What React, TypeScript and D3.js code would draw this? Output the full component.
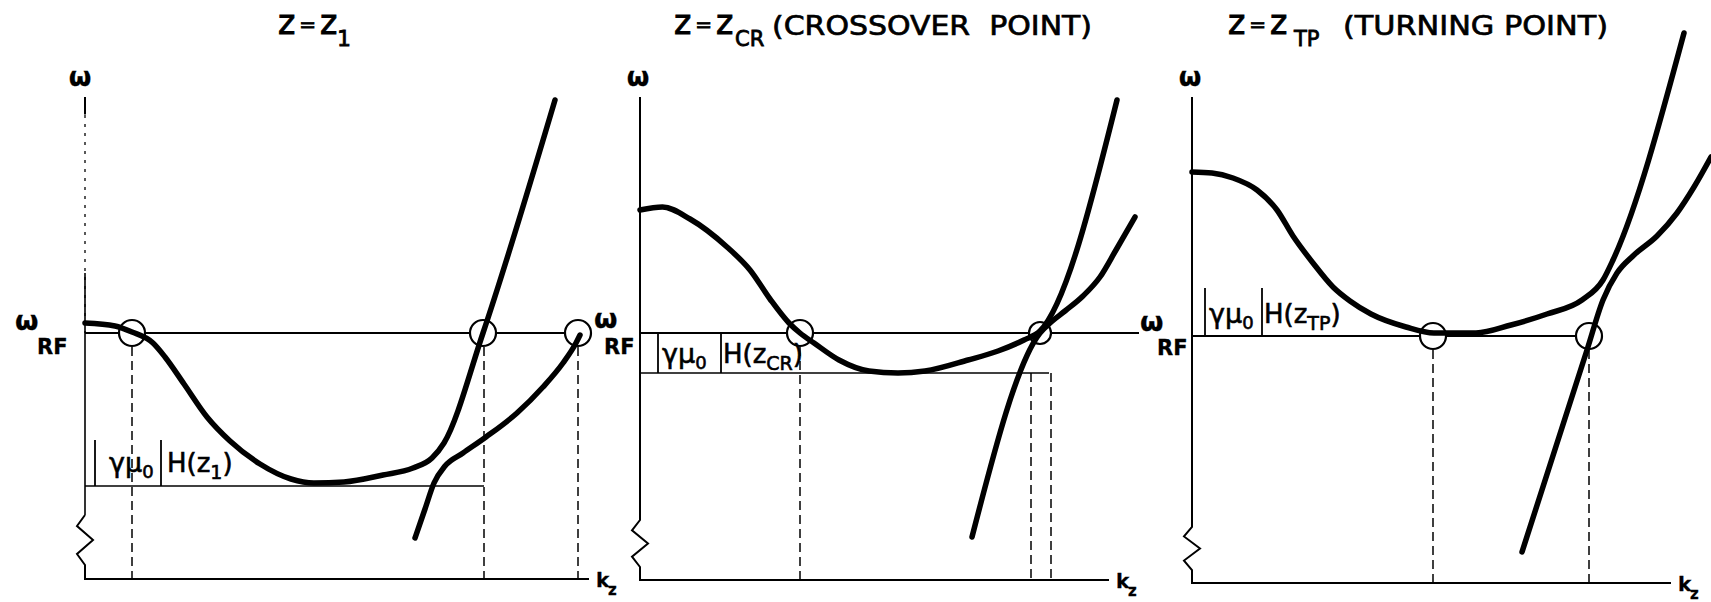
import React from 'react';
import * as d3 from 'd3';

type Pt = [number, number];

// ---- values (k_z and omega in arbitrary units) ----
const titleSubs = ['1', 'CR', 'TP'];
const titleTails = ['', '(CROSSOVER  POINT)', '(TURNING POINT)'];

const omegaRF = [4.92, 4.94, 4.94];
const fieldBars: Pt[] = [[1.86, 2.78], [4.14, 4.94], [4.94, 5.9]];
const fieldLevel = [1.86, 4.14, null];
const fieldLineEnd = [7.98, 8.18, 0];
const rfLineEnd = [9.86, 9.98, 7.94];
const axisKMax = [10.08, 9.38, 9.58];
const axisOmegaMax = [9.64, 9.66, 9.72];
const zigzag: Pt[] = [[1.28, 0.28], [1.2, 0.26], [1.12, 0.26]];

// upper and lower dispersion branches, per panel
const upper1: Pt[] = [[0, 5.12], [0.6, 5.06], [0.94, 4.94], [1.36, 4.72], [1.6, 4.44], [1.98, 3.9], [2.44, 3.24], [2.9, 2.76], [3.5, 2.3], [4.12, 2.0], [4.58, 1.92], [5.18, 1.94], [5.96, 2.08], [6.56, 2.22], [6.94, 2.42], [7.18, 2.72], [7.96, 4.92], [9.4, 9.58]];
const lower1: Pt[] = [[6.6, 0.82], [6.8, 1.4], [6.98, 1.92], [7.2, 2.26], [7.56, 2.52], [8.02, 2.84], [8.64, 3.32], [9.16, 3.84], [9.56, 4.32], [9.82, 4.72], [9.9, 4.88]];
const upper2: Pt[] = [[0, 7.4], [0.45, 7.46], [1.0, 7.22], [1.74, 6.66], [2.2, 6.2], [2.6, 5.62], [2.98, 5.14], [3.2, 4.94], [3.48, 4.74], [3.98, 4.4], [4.58, 4.18], [5.16, 4.14], [5.7, 4.18], [6.56, 4.4], [7.16, 4.58], [7.68, 4.8], [8.0, 4.98], [9.54, 9.6]];
const lower2: Pt[] = [[6.64, 0.86], [8.0, 4.94], [8.2, 5.14], [8.5, 5.38], [8.86, 5.68], [9.2, 6.06], [9.52, 6.6], [9.9, 7.26]];
const upper3: Pt[] = [[0, 8.22], [0.4, 8.2], [0.82, 8.1], [1.3, 7.86], [1.7, 7.46], [2.02, 6.94], [2.42, 6.4], [2.82, 5.92], [3.16, 5.64], [3.58, 5.38], [4.28, 5.12], [4.84, 5.0], [5.68, 5.0], [6.38, 5.16], [7.1, 5.38], [7.8, 5.66], [8.22, 6.06], [8.42, 6.46], [9.84, 11.0]];
const lower3: Pt[] = [[6.6, 0.62], [7.9, 4.66], [8.22, 5.66], [8.5, 6.2], [8.84, 6.56], [9.3, 6.94], [9.7, 7.4], [10.04, 7.92], [10.38, 8.52]];

const circles1 = [0.94, 7.96, 9.86];
const circles2 = [3.2, 8.0];
const circles3 = [4.82, 7.94];

// dashed projections: [k, omega where the drop starts]
const drops1: Pt[] = [[0.94, 4.92], [7.98, 4.92], [9.86, 4.92]];
const drops2: Pt[] = [[3.2, 4.94], [7.82, 4.14], [8.22, 4.14]];
const drops3: Pt[] = [[4.82, 4.94], [7.94, 4.94]];

const uppers = [upper1, upper2, upper3];
const lowers = [lower1, lower2, lower3];
const circles = [circles1, circles2, circles3];
const drops = [drops1, drops2, drops3];

// ---- layout (pixels) ----
const W = 1711;
const H = 602;
const PX = 50; // pixels per unit
const origins = [{ x: 85, y: 579 }, { x: 640, y: 580 }, { x: 1192, y: 583 }];
const titleLayout = [
  { zx: 278, sx: 337, tx: 0, tw: 0 },
  { zx: 674, sx: 735, tx: 772, tw: 320 },
  { zx: 1228, sx: 1294, tx: 1343, tw: 265 },
];
// "|γμ0|H(z..)" positions in data units: bar1, γμ, bar2, H, baseline
const labelLayout = [
  { b1: 0.2, g: 0.48, b2: 1.52, h: 1.64, base: 2.14 },
  { b1: 0.36, g: 0.44, b2: 1.62, h: 1.66, base: 4.34 },
  { b1: 0.26, g: 0.34, b2: 1.4, h: 1.44, base: 5.2 },
];
const rfLabels = [
  { wx: 15, wy: 330, rx: 37, ry: 354 },
  { wx: 594, wy: 328, rx: 604, ry: 354 },
  { wx: 1140, wy: 331, rx: 1157, ry: 355 },
];

const FONT = "'DejaVu Sans', sans-serif";
const THICK = 5.5;

function Panel({ i }: { i: number }) {
  const o = origins[i];
  const x = d3.scaleLinear().domain([0, 1]).range([o.x, o.x + PX]);
  const y = d3.scaleLinear().domain([0, 1]).range([o.y, o.y - PX]);
  const curve = d3.line<Pt>().x(d => x(d[0])).y(d => y(d[1])).curve(d3.curveMonotoneX);
  const straight = d3.line<Pt>().x(d => d[0]).y(d => d[1]);

  const rf = omegaRF[i];
  const [zTop, zBot] = zigzag[i];
  const ax = x(0);
  const zt = y(zTop);
  const zb = y(zBot);
  const zzPts: Pt[] = [
    [ax, y(axisOmegaMax[i])],
    [ax, zt],
    [ax - 8, zt + (zb - zt) * 0.22],
    [ax + 8, zt + (zb - zt) * 0.5],
    [ax - 8, zt + (zb - zt) * 0.78],
    [ax, zb],
    [ax, y(0)],
    [x(axisKMax[i]), y(0)],
  ];

  const tl = titleLayout[i];
  const lb = labelLayout[i];
  const rl = rfLabels[i];
  const [barLo, barHi] = fieldBars[i];
  const fl = fieldLevel[i];

  return (
    <g>
      {/* axes with break mark */}
      {i === 0 ? (
        <g>
          <path d={straight(zzPts.slice(1)) || ''} fill="none" stroke="#000" strokeWidth={2} />
          <line x1={ax} x2={ax} y1={y(axisOmegaMax[i])} y2={y(rf)} stroke="#000" strokeWidth={1.3} strokeDasharray="3 6" />
          <line x1={ax} x2={ax} y1={y(axisOmegaMax[i])} y2={y(axisOmegaMax[i] - 0.35)} stroke="#000" strokeWidth={2} />
          <line x1={ax} x2={ax} y1={y(rf + 1.2)} y2={zt} stroke="#000" strokeWidth={1.6} />
        </g>
      ) : (
        <path d={straight(zzPts) || ''} fill="none" stroke="#000" strokeWidth={2} />
      )}

      {/* omega_RF level */}
      <line x1={ax} x2={x(rfLineEnd[i])} y1={y(rf)} y2={y(rf)} stroke="#000" strokeWidth={2} />
      {/* |γμ0|H(z) level */}
      {fl !== null && (
        <line x1={ax} x2={x(fieldLineEnd[i])} y1={y(fl)} y2={y(fl)} stroke="#000" strokeWidth={1.6} />
      )}

      {/* dashed drops to the k_z axis */}
      {drops[i].map((d, j) => (
        <line key={j} x1={x(d[0])} x2={x(d[0])} y1={y(d[1])} y2={y(0)} stroke="#000" strokeWidth={1.5} strokeDasharray="9 5" />
      ))}

      {/* bars of the |γμ0|H label */}
      {[lb.b1, lb.b2].map((b, j) => (
        <line key={j} x1={x(b)} x2={x(b)} y1={y(barLo)} y2={y(barHi)} stroke="#000" strokeWidth={1.8} />
      ))}

      {/* crossing circles */}
      {circles[i].map((c, j) => (
        <circle key={j} cx={x(c)} cy={y(rf)} r={i === 1 && j === 1 ? 11 : 13} fill="#fff" stroke="#000" strokeWidth={2.2} />
      ))}

      {/* dispersion branches */}
      <path d={curve(uppers[i]) || ''} fill="none" stroke="#000" strokeWidth={THICK} strokeLinecap="round" strokeLinejoin="round" />
      <path d={curve(lowers[i]) || ''} fill="none" stroke="#000" strokeWidth={THICK} strokeLinecap="round" strokeLinejoin="round" />

      {/* texts */}
      <g fontFamily={FONT} fill="#000" stroke="#000">
        <text x={tl.zx} y={34} fontSize={33} strokeWidth={0.9}>
          z<tspan fontSize={20} dx={4} dy={-3}>=</tspan><tspan fontSize={33} dx={4} dy={3}>z</tspan>
        </text>
        <text x={tl.sx} y={46} fontSize={i === 0 ? 22 : 21} strokeWidth={0.8}>{titleSubs[i]}</text>
        {titleTails[i] && (
          <text x={tl.tx} y={35} fontSize={27} textLength={tl.tw} lengthAdjust="spacingAndGlyphs" strokeWidth={0.7} xmlSpace="preserve">{titleTails[i]}</text>
        )}
        <text x={ax - (i === 0 ? 5 : 2)} y={86} fontSize={26} fontWeight="bold" strokeWidth={0.3} textAnchor="middle">ω</text>

        <text x={rl.wx} y={rl.wy} fontSize={27} fontWeight="bold" strokeWidth={0.3}>ω</text>
        <text x={rl.rx} y={rl.ry} fontSize={21} fontWeight="bold" strokeWidth={0.3}>RF</text>

        <text x={x(axisKMax[i]) + 7} y={o.y + 8} fontSize={20} fontWeight="bold" strokeWidth={0.3}>k</text>
        <text x={x(axisKMax[i]) + 19} y={o.y + 16} fontSize={15} fontWeight="bold" strokeWidth={0.3}>z</text>

        <text x={x(lb.g)} y={y(lb.base)} fontSize={27} strokeWidth={0.6}>γμ<tspan dy={6} fontSize={18}>0</tspan></text>
        <text x={x(lb.h)} y={y(lb.base)} fontSize={26} strokeWidth={0.6}>H(z<tspan dy={7} fontSize={19}>{titleSubs[i]}</tspan><tspan dy={-7}>)</tspan></text>
      </g>
    </g>
  );
}

export default function App() {
  return (
    <svg width={W} height={H} viewBox={`0 0 ${W} ${H}`} style={{ position: 'absolute', left: 0, top: 0, background: '#fff' }}>
      <rect width={W} height={H} fill="#fff" />
      {[0, 1, 2].map(i => <Panel key={i} i={i} />)}
    </svg>
  );
}
